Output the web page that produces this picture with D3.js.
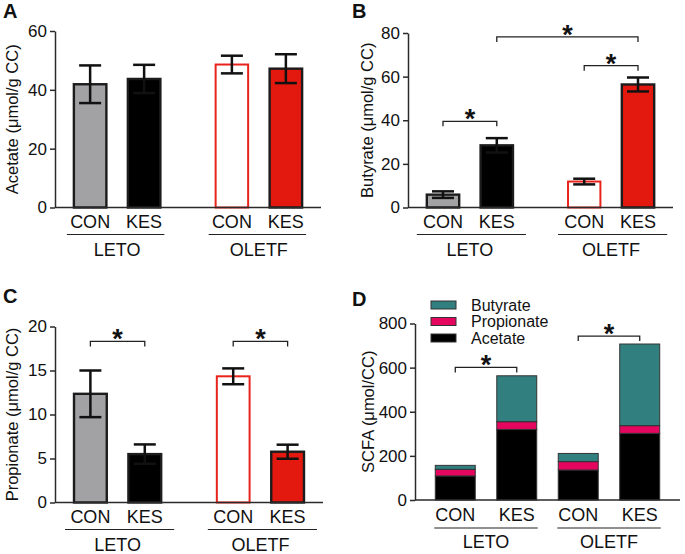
<!DOCTYPE html>
<html><head><meta charset="utf-8">
<script src="https://cdn.jsdelivr.net/npm/d3@7"></script>
<style>
body{margin:0;background:#fff}
svg{display:block}
text{font-family:"Liberation Sans",Arial,Helvetica,sans-serif;fill:#111}
</style>
</head><body>
<svg id="c" width="685" height="554"></svg>
<script>
// ---------- data ----------
const groups = ["LETO", "OLETF"];
const treatments = ["CON", "KES"];

const acetateMean = [41.9, 43.7, 48.6, 47.2];
const acetateErr  = [6.4, 4.8, 3.0, 4.9];
const acetateTicks = [0, 20, 40, 60];

const butyrateMean = [5.9, 28.5, 11.9, 56.4];
const butyrateErr  = [1.5, 3.3, 1.3, 3.2];
const butyrateTicks = [0, 20, 40, 60, 80];

const propionateMean = [12.35, 5.5, 14.34, 5.77];
const propionateErr  = [2.65, 1.1, 0.9, 0.8];
const propionateTicks = [0, 5, 10, 15, 20];

const scfaAcetate    = [109, 320, 136, 302];
const scfaPropionate = [30, 35, 38, 35];
const scfaButyrate   = [18, 208, 37, 370];
const scfaTicks = [0, 200, 400, 600, 800];
const scfaSeries = ["Acetate", "Propionate", "Butyrate"];
const legendLabels = ["Butyrate", "Propionate", "Acetate"];

// significance brackets: [fromBar, toBar, value]
const butyrateSig = [[0, 1, 39.5], [2, 3, 65], [1, 3, 78.2]];
const propionateSig = [[0, 1, 18.3], [2, 3, 18.3]];
const scfaSig = [[0, 1, 601], [2, 3, 743]];

// ---------- styles ----------
const barFill   = ["#a2a2a5", "#000000", "#ffffff", "#e3180f"];
const barStroke = ["#1c1c1c", "#1c1c1c", "#e8231c", "#1c1c1c"];
const stackColor = {Acetate: "#000000", Propionate: "#e5065f", Butyrate: "#327f80"};
const axisColor = "#2a2a2a";

const svg = d3.select("#c");

function yAxis(y, x, ticks, fmt) {
  const g = svg.append("g").attr("transform", `translate(${x},0)`)
    .call(d3.axisLeft(y).tickValues(ticks).tickSize(5).tickPadding(3).tickSizeOuter(0).tickFormat(fmt || d3.format("d")));
  g.select(".domain").attr("stroke", axisColor).attr("stroke-width", 1.5);
  g.selectAll(".tick line").attr("stroke", axisColor).attr("stroke-width", 1.5);
  g.selectAll(".tick text").attr("font-size", 17).attr("fill", "#111")
    .attr("font-family", '"Liberation Sans",Arial,sans-serif');
  return g;
}

function panelLetter(t, x, y) {
  svg.append("text").attr("x", x).attr("y", y).attr("font-size", 20)
    .attr("font-weight", "bold").text(t);
}

function yTitle(t, x, yMid) {
  svg.append("text").attr("transform", `translate(${x},${yMid}) rotate(-90)`)
    .attr("text-anchor", "middle").attr("dominant-baseline", "central")
    .attr("font-size", 16.5).text(t);
}

function bracket(xa, xb, yb, drop) {
  svg.append("path")
    .attr("d", `M${xa},${yb + drop}V${yb}H${xb}V${yb + drop}`)
    .attr("fill", "none").attr("stroke", "#222").attr("stroke-width", 1.3);
  svg.append("text").attr("x", (xa + xb) / 2).attr("y", yb + 7)
    .attr("text-anchor", "middle").attr("font-size", 27).attr("font-weight", "bold").text("*");
}

function xLabels(centers, groupSpans, lblY, ulY, grpY, ext) {
  centers.forEach((c, i) => {
    svg.append("text").attr("x", c).attr("y", lblY).attr("text-anchor", "middle")
      .attr("font-size", 18).text(treatments[i % 2]);
  });
  groupSpans.forEach((s, gi) => {
    svg.append("line").attr("x1", s[0] - ext[0]).attr("x2", s[1] + ext[1])
      .attr("y1", ulY).attr("y2", ulY).attr("stroke", "#222").attr("stroke-width", 1.2);
    svg.append("text").attr("x", (s[0] + s[1]) / 2).attr("y", grpY).attr("text-anchor", "middle")
      .attr("font-size", 18).text(groups[gi]);
  });
}

function barPanel(cfg) {
  const y = d3.scaleLinear().domain([0, cfg.max]).range([cfg.yBottom, cfg.yTop]);
  const outer = d3.scaleBand().domain(groups).range([cfg.x0, cfg.x1]).paddingInner(0.3757).paddingOuter(0.1261);
  const inner = d3.scaleBand().domain(treatments).range([0, outer.bandwidth()]).paddingInner(0.361);
  const bx = i => outer(groups[Math.floor(i / 2)]) + inner(treatments[i % 2]);
  const bw = inner.bandwidth();
  const centers = cfg.mean.map((d, i) => bx(i) + bw / 2);

  svg.append("g").selectAll("rect").data(cfg.mean).join("rect")
    .attr("x", (d, i) => bx(i) + 1).attr("width", bw - 2)
    .attr("y", d => y(d)).attr("height", d => y(0) - y(d))
    .attr("fill", (d, i) => barFill[i]).attr("stroke", (d, i) => barStroke[i])
    .attr("stroke-width", (d, i) => i === 2 ? 2 : 2.4);

  const eg = svg.append("g").attr("stroke", "#111").attr("stroke-width", 2.5);
  cfg.mean.forEach((m, i) => {
    const e = cfg.err[i], c = centers[i];
    eg.append("line").attr("x1", c).attr("x2", c).attr("y1", y(m - e)).attr("y2", y(m + e));
    eg.append("line").attr("x1", c - 11).attr("x2", c + 11).attr("y1", y(m + e)).attr("y2", y(m + e));
    eg.append("line").attr("x1", c - 11).attr("x2", c + 11).attr("y1", y(m - e)).attr("y2", y(m - e));
  });

  yAxis(y, cfg.x0, cfg.ticks);
  svg.append("line").attr("x1", cfg.x0).attr("x2", cfg.x1).attr("y1", y(0)).attr("y2", y(0))
    .attr("stroke", axisColor).attr("stroke-width", 1.5);

  (cfg.sig || []).forEach(s => bracket(centers[s[0]], centers[s[1]], y(s[2]), 5));

  const spans = groups.map(g => [outer(g), outer(g) + outer.bandwidth()]);
  xLabels(centers, spans, y(0) + 20, y(0) + 27, y(0) + 48, cfg.ext);
  yTitle(cfg.title, cfg.titleX, (cfg.yTop + cfg.yBottom) / 2);
  panelLetter(cfg.letter, cfg.letterX, cfg.letterY);
}

barPanel({x0: 55, x1: 321, yTop: 31, yBottom: 207.5, max: 60, ticks: acetateTicks,
  mean: acetateMean, err: acetateErr, title: "Acetate (\u03bcmol/g CC)", titleX: 12,
  letter: "A", letterX: 3, letterY: 18, ext: [6, 3]});

barPanel({x0: 408, x1: 673, yTop: 33, yBottom: 207.5, max: 80, ticks: butyrateTicks,
  mean: butyrateMean, err: butyrateErr, title: "Butyrate (\u03bcmol/g CC)", titleX: 367,
  letter: "B", letterX: 352, letterY: 18, sig: butyrateSig, ext: [9, 12]});

barPanel({x0: 55, x1: 323, yTop: 326.5, yBottom: 502.5, max: 20, ticks: propionateTicks,
  mean: propionateMean, err: propionateErr, title: "Propionate (\u03bcmol/g CC)", titleX: 12,
  letter: "C", letterX: 3, letterY: 303, sig: propionateSig, ext: [8, 12]});

// ---------- panel D: stacked ----------
(function () {
  const x0 = 415, x1 = 680, yTop = 323.5, yBottom = 500;
  const barKeys = ["LETO-CON", "LETO-KES", "OLETF-CON", "OLETF-KES"];
  const table = barKeys.map((k, i) => ({key: k, Acetate: scfaAcetate[i], Propionate: scfaPropionate[i], Butyrate: scfaButyrate[i]}));
  const stacked = d3.stack().keys(scfaSeries)(table);
  const x = d3.scaleBand().domain(barKeys).range([x0, x1]).paddingInner(0.35).paddingOuter(0.33);
  const y = d3.scaleLinear().domain([0, 800]).range([yBottom, yTop]);

  svg.append("g").selectAll("g").data(stacked).join("g")
    .attr("fill", d => stackColor[d.key])
    .selectAll("rect").data(d => d).join("rect")
    .attr("x", d => x(d.data.key)).attr("width", x.bandwidth())
    .attr("y", d => y(d[1])).attr("height", d => y(d[0]) - y(d[1]))
    .attr("stroke", "#333").attr("stroke-width", 1);

  yAxis(y, x0, scfaTicks);
  svg.append("line").attr("x1", x0).attr("x2", x1).attr("y1", y(0)).attr("y2", y(0))
    .attr("stroke", axisColor).attr("stroke-width", 1.5);

  const centers = barKeys.map(k => x(k) + x.bandwidth() / 2);
  scfaSig.forEach(s => bracket(centers[s[0]], centers[s[1]], y(s[2]), 5));

  const spans = [[x(barKeys[0]), x(barKeys[1]) + x.bandwidth()], [x(barKeys[2]), x(barKeys[3]) + x.bandwidth()]];
  xLabels(centers, spans, yBottom + 21, yBottom + 28, yBottom + 48, [1, 1]);

  yTitle("SCFA (\u03bcmol/CC)", 368, (yTop + yBottom) / 2);
  panelLetter("D", 352, 306);

  const lg = svg.append("g");
  legendLabels.forEach((k, i) => {
    const cy = 305 + i * 16.5;
    lg.append("rect").attr("x", 431).attr("y", cy - 4).attr("width", 25).attr("height", 8)
      .attr("fill", stackColor[k]).attr("stroke", "#333").attr("stroke-width", 1);
    lg.append("text").attr("x", 471).attr("y", cy).attr("dominant-baseline", "central")
      .attr("font-size", 16).text(k);
  });
})();
</script>
</body></html>
